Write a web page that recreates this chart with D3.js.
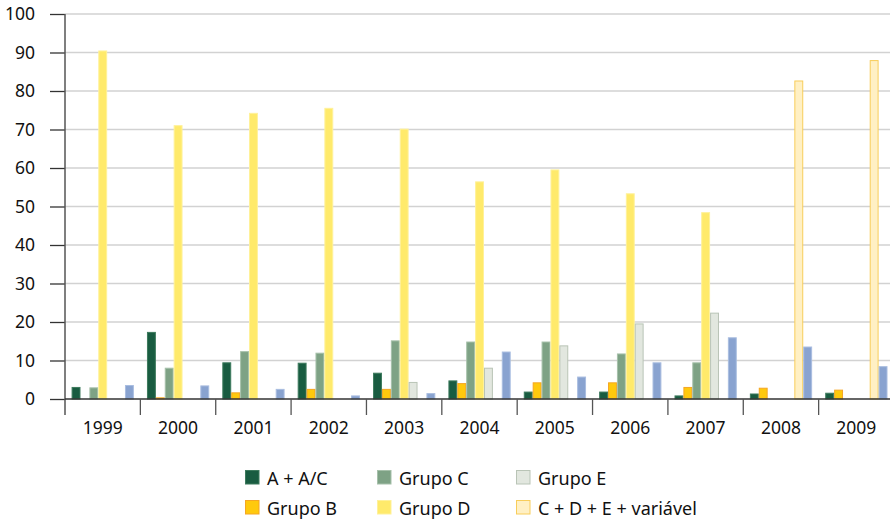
<!DOCTYPE html>
<html><head><meta charset="utf-8">
<script src="https://cdn.jsdelivr.net/npm/d3@7"></script>
<style>
html,body{margin:0;padding:0;background:#fff;}
svg{display:block;font-family:"Noto Sans","Open Sans",sans-serif;}
</style></head>
<body>
<svg id="chart" width="890" height="519"></svg>
<script>
const years = ["1999","2000","2001","2002","2003","2004","2005","2006","2007","2008","2009"];
const seriesNames = ["A + A/C","Grupo B","Grupo C","Grupo D","Grupo E","C + D + E + variável","Outros"];
const aAC     = [3.0,17.3,9.4,9.3,6.7,4.7,1.8,1.8,0.8,1.3,1.5];
const grupoB  = [0,0.3,1.6,2.5,2.5,4.0,4.2,4.2,3.0,2.8,2.3];
const grupoC  = [2.9,8.0,12.3,11.9,15.1,14.8,14.8,11.7,9.4,0,0];
const grupoD  = [90.4,71.0,74.2,75.5,70.1,56.4,59.5,53.3,48.4,0,0];
const grupoE  = [0,0,0,0,4.3,8.0,13.8,19.5,22.3,0,0];
const cdeVar  = [0,0,0,0,0,0,0,0,0,82.6,87.9];
const outros  = [3.5,3.4,2.5,0.8,1.4,12.2,5.7,9.4,15.9,13.5,8.4];
const yTicks  = [0,10,20,30,40,50,60,70,80,90,100];

const seriesValues = [aAC,grupoB,grupoC,grupoD,grupoE,cdeVar,outros];
const fills   = ["#195c41","#ffc90d","#7ea285","#ffea6b","#e2e7df","#fff0c4","#89a3d0"];
const strokes = ["#3d7a5d","#f5a623","#a6c0aa","#fff19a","#b9c4b6","#f8cd5a","#a9bde0"];

const svg = d3.select("#chart");
const pLeft = 65, pRight = 894, pTop = 14, pBottom = 399;

const x0 = d3.scaleBand().domain(years).range([pLeft, pRight]).padding(0);
const bw = x0.bandwidth();
const x1 = d3.scaleBand().domain(d3.range(seriesNames.length)).range([6.6, bw - 6.5]).padding(0);
const y = d3.scaleLinear().domain([0,100]).range([pBottom, pTop]);

// gridlines
svg.append("g").selectAll("line").data(yTicks.filter(d=>d>0)).join("line")
  .attr("x1", pLeft).attr("x2", 890)
  .attr("y1", d=>y(d)).attr("y2", d=>y(d))
  .attr("stroke", "#d2d2d2").attr("stroke-width", 1.5);

// bars
const g = svg.append("g");
years.forEach((yr, i) => {
  seriesValues.forEach((vals, s) => {
    const v = vals[i];
    if (!v) return;
    g.append("rect")
      .attr("x", x0(yr) + x1(s) + 0.5)
      .attr("y", y(v))
      .attr("width", x1.bandwidth() - 1)
      .attr("height", Math.max(0.6, y(0) - y(v)))
      .attr("fill", fills[s])
      .attr("stroke", strokes[s])
      .attr("stroke-width", 1);
  });
});

// y axis
const yAxis = d3.axisLeft(y).tickValues(yTicks).tickSize(15).tickPadding(15).tickFormat(d3.format("d"));
const ya = svg.append("g").attr("transform", `translate(${pLeft},0)`).call(yAxis);
ya.select(".domain").remove();
ya.selectAll(".tick line").attr("stroke", "#333").attr("stroke-width", 1.3);
ya.selectAll(".tick text").attr("fill", "#111").style("font-size", "17.5px")
  .attr("font-family", "Noto Sans, Open Sans, sans-serif");
svg.append("line").attr("x1", pLeft).attr("x2", pLeft).attr("y1", pTop).attr("y2", 415)
  .attr("stroke", "#555").attr("stroke-width", 1.5);

// baseline
svg.append("line").attr("x1", pLeft).attr("x2", 890).attr("y1", pBottom).attr("y2", pBottom)
  .attr("stroke", "#333").attr("stroke-width", 1.5);

// x axis group separators and labels
const xa = svg.append("g");
years.forEach((yr, i) => {
  if (i > 0) xa.append("line").attr("x1", x0(yr)).attr("x2", x0(yr))
    .attr("y1", pBottom).attr("y2", 415).attr("stroke", "#555").attr("stroke-width", 1.3);
  xa.append("text").attr("x", x0(yr) + bw/2).attr("y", 427)
    .attr("text-anchor", "middle").attr("dominant-baseline", "central")
    .attr("fill", "#111").style("font-size", "17.5px").text(yr);
});

// legend
const legendItems = [
  {s:0, col:0, row:0},{s:2, col:1, row:0},{s:4, col:2, row:0},
  {s:1, col:0, row:1},{s:3, col:1, row:1},{s:5, col:2, row:1}
];
const colX = [245, 377, 516], rowY = [477.5, 507.5];
const lg = svg.append("g");
legendItems.forEach(it => {
  lg.append("rect").attr("x", colX[it.col] + 0.5).attr("y", rowY[it.row] - 7)
    .attr("width", 13.5).attr("height", 13.5)
    .attr("fill", fills[it.s]).attr("stroke", strokes[it.s]).attr("stroke-width", 1);
  lg.append("text").attr("x", colX[it.col] + 22).attr("y", rowY[it.row])
    .attr("dominant-baseline", "central").attr("fill", "#111")
    .style("font-size", "18px").text(seriesNames[it.s]);
});
</script>
</body></html>
